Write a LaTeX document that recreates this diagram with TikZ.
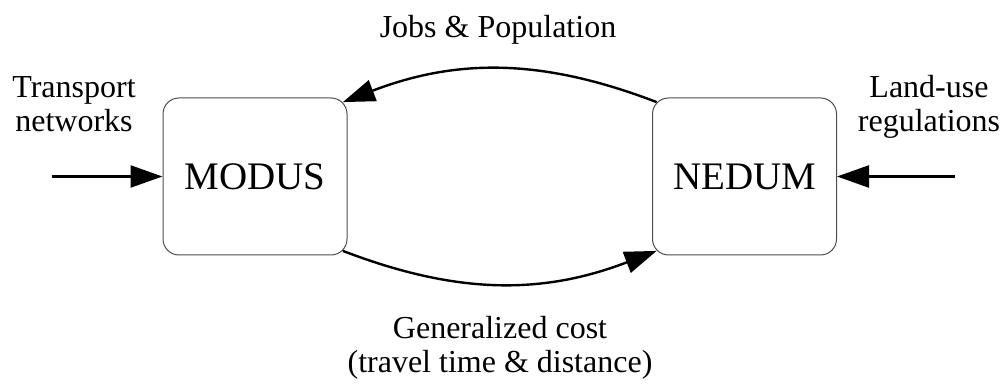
\documentclass[tikz,border=0pt]{standalone}
\usepackage{fontspec}
\setmainfont{Liberation Serif}
\usetikzlibrary{arrows.meta}
\usetikzlibrary{positioning}
\tikzset{
>={Triangle[length=16pt,width=11pt]}, % big filled heads
flow/.style={->,line width=1.2pt},
module/.style={draw=black!70,line width=0.5pt,rectangle,rounded corners=8pt,
  minimum width=92pt,minimum height=78.5pt,font=\fontsize{19.5}{23}\selectfont},
lbl/.style={align=center,inner sep=0pt,font=\fontsize{16}{17}\selectfont},
}
\begin{document}
\begin{tikzpicture}
\useasboundingbox (0,0) rectangle (502.5pt,192.5pt);
\node[module] (modus) at (127.5pt,104.25pt) {MODUS};
\node[module] (nedum) at (372.25pt,104.25pt) {NEDUM};
% outside inputs
\coordinate[left=55.5pt of modus.west] (tin);
\coordinate[right=59pt of nedum.east] (lin);
\draw[flow] (tin) -- (modus.west);
\draw[flow] (lin) -- (nedum.east);
\node[lbl,anchor=base] (transp) at (37pt,126.5pt) {Transport\\networks};
\node[lbl,anchor=base] (landuse) at (464.5pt,126.5pt) {Land-use\\regulations};
% feedback loop
\coordinate (mne) at ([shift={(-2.3pt,-2.3pt)}]modus.north east);
\coordinate (mse) at ([shift={(-2.3pt,2.3pt)}]modus.south east);
\coordinate (nnw) at ([shift={(2.3pt,-2.3pt)}]nedum.north west);
\coordinate (nsw) at ([shift={(2.3pt,2.3pt)}]nedum.south west);
\draw[flow] (nnw) to[bend right=21] (mne);
\draw[flow] (mse) to[bend right=21] (nsw);
\node[lbl,anchor=base] (jobs) at (249pt,173.5pt) {Jobs \& Population};
\node[lbl,anchor=base] (cost) at (250pt,6pt) {Generalized cost\\(travel time \& distance)};
\end{tikzpicture}
\end{document}
